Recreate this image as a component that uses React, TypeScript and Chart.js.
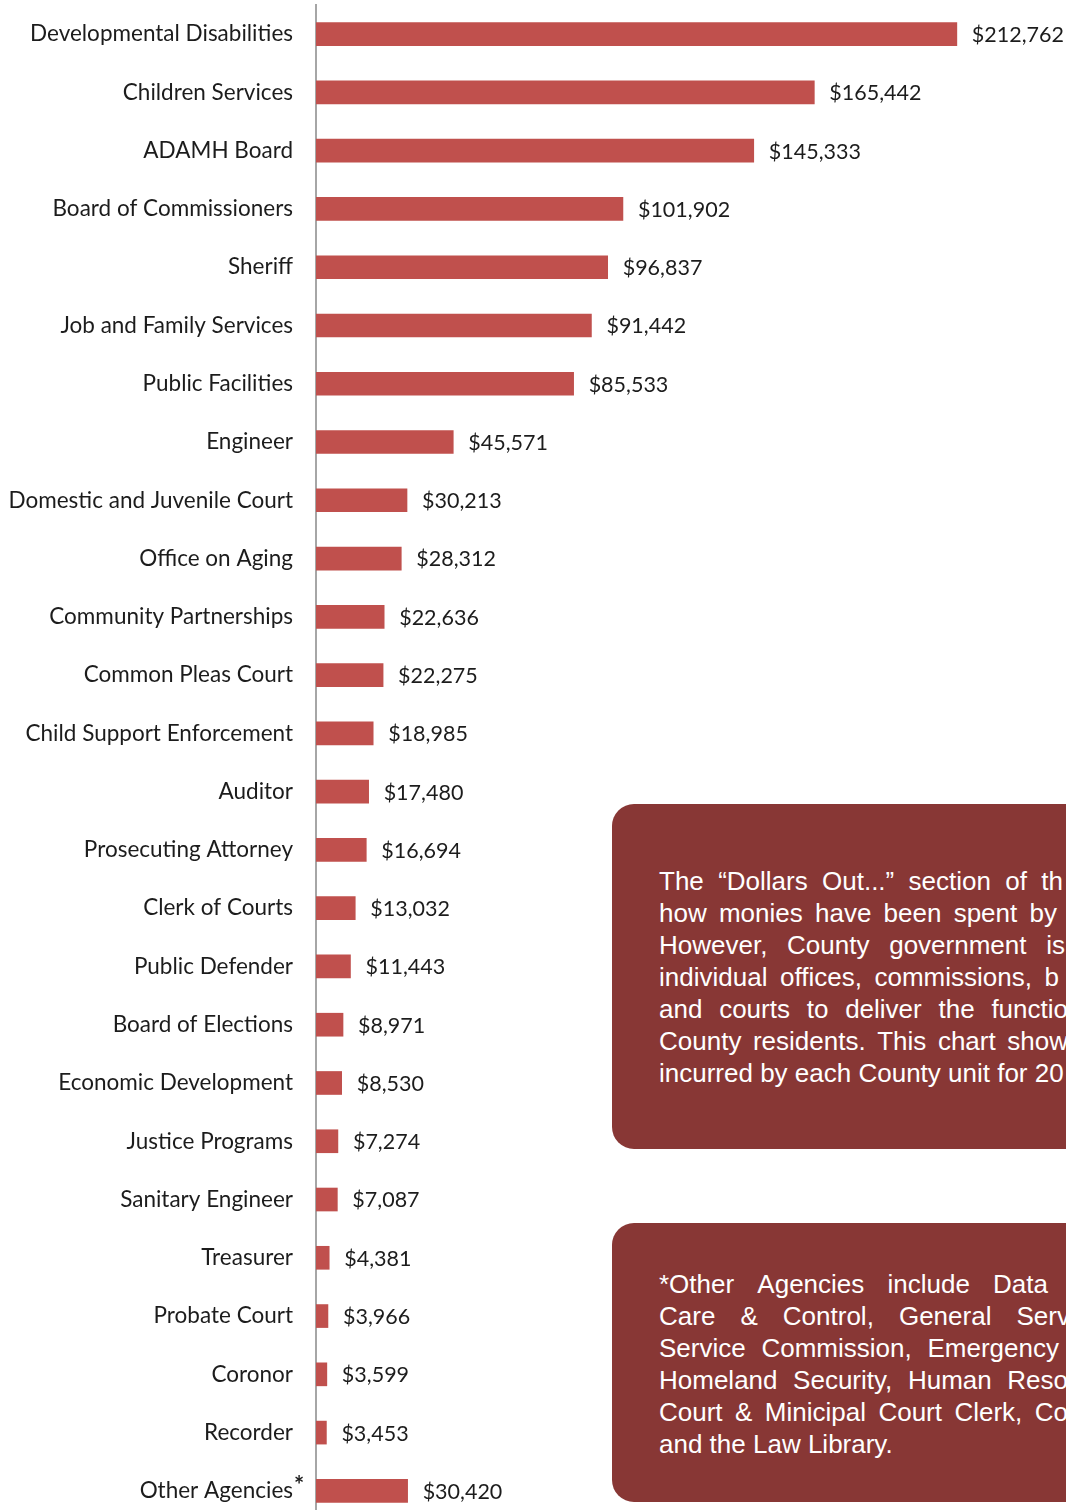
import React, { useEffect, useRef } from "react";
import { Chart, registerables } from "chart.js";

Chart.register(...registerables);

const categories = [
  "Developmental Disabilities",
  "Children Services",
  "ADAMH Board",
  "Board of Commissioners",
  "Sheriff",
  "Job and Family Services",
  "Public Facilities",
  "Engineer",
  "Domestic and Juvenile Court",
  "Office on Aging",
  "Community Partnerships",
  "Common Pleas Court",
  "Child Support Enforcement",
  "Auditor",
  "Prosecuting Attorney",
  "Clerk of Courts",
  "Public Defender",
  "Board of Elections",
  "Economic Development",
  "Justice Programs",
  "Sanitary Engineer",
  "Treasurer",
  "Probate Court",
  "Coronor",
  "Recorder",
  "Other Agencies",
];

const values = [
  212762, 165442, 145333, 101902, 96837, 91442, 85533, 45571, 30213, 28312,
  22636, 22275, 18985, 17480, 16694, 13032, 11443, 8971, 8530, 7274, 7087,
  4381, 3966, 3599, 3453, 30420,
];

const footnoteCategory = "Other Agencies";
const xAxisMax = 249000;

// Visible text of the two notes (clipped at the page edge in the reference)
const introLines = [
  "The “Dollars Out...” section of th",
  "how monies have been spent by",
  "However, County government is",
  "individual offices, commissions, b",
  "and courts to deliver the functio",
  "County residents. This chart show",
  "incurred by each County unit for 20",
];
const introLineEnds = [1063, 1057, 1065, 1059, 1068, 1068, 0];

const otherLines = [
  "*Other Agencies include Data",
  "Care & Control, General Serv",
  "Service Commission, Emergency",
  "Homeland Security, Human Reso",
  "Court & Minicipal Court Clerk, Co",
  "and the Law Library.",
];
const otherLineEnds = [1048, 1070, 1059, 1068, 1068, 0];

const BAR_COLOR = "#C0504D";
const TEXT_COLOR = "#1c1c1c";
const AXIS_COLOR = "#A6A6A6";
const BOX_COLOR = "#883735";
const LABEL_FONT = "Lato";
const LABEL_SIZE = 22.5;
const VALUE_SIZE = 21.5;

const valueLabels = {
  id: "valueLabels",
  afterDatasetsDraw(chart: any) {
    const ctx = chart.ctx;
    const meta = chart.getDatasetMeta(0);
    ctx.save();
    ctx.font = `${VALUE_SIZE}px ${LABEL_FONT}`;
    ctx.fillStyle = TEXT_COLOR;
    ctx.textAlign = "left";
    ctx.textBaseline = "middle";
    meta.data.forEach((bar: any, i: number) => {
      ctx.fillText("$" + values[i].toLocaleString("en-US"), bar.x + 15, bar.y + 1);
    });
    const yScale = chart.scales.y;
    const idx = categories.indexOf(footnoteCategory);
    const y = yScale.getPixelForValue(idx);
    ctx.font = `bold 24px ${LABEL_FONT}`;
    ctx.fillText("*", chart.chartArea.left - 22, y - 5);
    ctx.restore();
  },
};

function NoteLines({ lines, ends, top }: { lines: string[]; ends: number[]; top: number }) {
  return (
    <>
      {lines.map((line, i) => {
        const justified = ends[i] > 0;
        const words = line.split(" ");
        return (
          <div
            key={i}
            style={{
              position: "absolute",
              left: 659,
              top: top + i * 32,
              height: 32,
              width: justified ? ends[i] - 659 : undefined,
              display: "flex",
              justifyContent: justified ? "space-between" : "flex-start",
              whiteSpace: "pre",
              fontFamily: "'Liberation Sans', Arial, sans-serif",
              fontSize: 26,
              lineHeight: "32px",
              color: "#ffffff",
            }}
          >
            {justified ? words.map((w, j) => <span key={j}>{w}</span>) : line}
          </div>
        );
      })}
    </>
  );
}

export default function App() {
  const canvasRef = useRef<HTMLCanvasElement | null>(null);

  useEffect(() => {
    if (!canvasRef.current) return;
    const chart = new Chart(canvasRef.current, {
      type: "bar",
      data: {
        labels: categories,
        datasets: [
          {
            data: values,
            backgroundColor: BAR_COLOR,
            borderWidth: 0,
            barThickness: 23,
          },
        ],
      },
      options: {
        indexAxis: "y",
        animation: false,
        responsive: false,
        maintainAspectRatio: false,
        devicePixelRatio: 1,
        layout: { padding: { top: 5, left: 0, right: 0, bottom: 0 } },
        plugins: {
          legend: { display: false },
          tooltip: { enabled: false },
        },
        scales: {
          x: {
            display: false,
            min: 0,
            max: xAxisMax,
          },
          y: {
            z: 1,
            grid: { display: false, drawTicks: false },
            border: { display: true, color: AXIS_COLOR, width: 2 },
            ticks: {
              autoSkip: false,
              padding: 23,
              color: TEXT_COLOR,
              font: { family: LABEL_FONT, size: LABEL_SIZE },
            },
            afterFit: (scale: any) => {
              scale.width = 316;
              scale.paddingTop = 0;
              scale.paddingBottom = 0;
            },
          },
        },
      },
      plugins: [valueLabels],
    });
    return () => chart.destroy();
  }, []);

  return (
    <div
      style={{
        position: "fixed",
        left: 0,
        top: 0,
        width: 1066,
        height: 1510,
        overflow: "hidden",
        background: "#ffffff",
      }}
    >
      <canvas
        ref={canvasRef}
        width={1066}
        height={1520}
        style={{ position: "absolute", left: 0, top: 0, width: 1066, height: 1520 }}
      />
      <div
        style={{
          position: "absolute",
          left: 612,
          top: 804,
          width: 640,
          height: 345,
          borderRadius: 22,
          background: BOX_COLOR,
        }}
      />
      <NoteLines lines={introLines} ends={introLineEnds} top={865} />
      <div
        style={{
          position: "absolute",
          left: 612,
          top: 1223,
          width: 640,
          height: 279,
          borderRadius: 22,
          background: BOX_COLOR,
        }}
      />
      <NoteLines lines={otherLines} ends={otherLineEnds} top={1268} />
    </div>
  );
}
